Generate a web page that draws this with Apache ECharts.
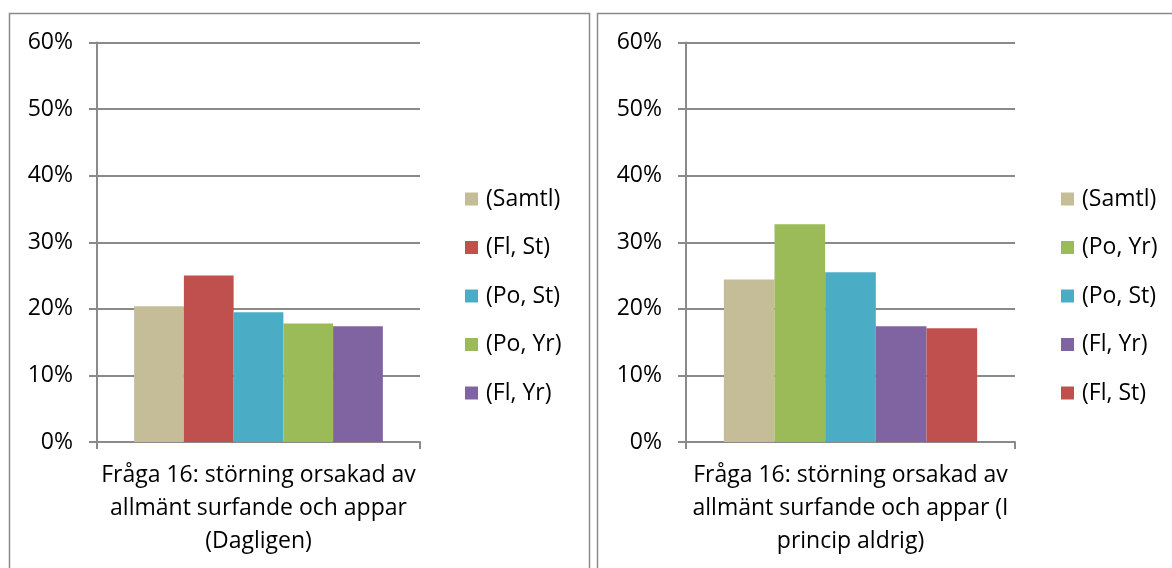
<!DOCTYPE html>
<html><head><meta charset="utf-8">
<script src="https://cdn.jsdelivr.net/npm/echarts@6/dist/echarts.min.js"></script>
<style>html,body{margin:0;padding:0;background:#fff}#c{width:1172px;height:568px}</style>
</head><body><div id="c"></div>
<script>
const leftCategory = ["Fråga 16: störning orsakad av\nallmänt surfande och appar\n(Dagligen)"];
const rightCategory = ["Fråga 16: störning orsakad av\nallmänt surfande och appar (I\nprincip aldrig)"];
const yTicks = [0, 0.1, 0.2, 0.3, 0.4, 0.5, 0.6];

const leftSeriesNames = ["(Samtl)", "(Fl, St)", "(Po, St)", "(Po, Yr)", "(Fl, Yr)"];
const leftValues = [0.204, 0.250, 0.195, 0.178, 0.174];

const rightSeriesNames = ["(Samtl)", "(Po, Yr)", "(Po, St)", "(Fl, Yr)", "(Fl, St)"];
const rightValues = [0.244, 0.327, 0.255, 0.174, 0.171];

const colors = {"(Samtl)":"#C4BD97","(Fl, St)":"#C0504D","(Po, St)":"#4BACC6","(Po, Yr)":"#9BBB59","(Fl, Yr)":"#8064A2"};

const FONT = "Open Sans";
const FS = 23;
const gridColor = "#8a8a8a";

function yAxis(gi){
  return {type:'value', gridIndex:gi, min:yTicks[0], max:yTicks[yTicks.length-1], interval:0.1,
    axisLine:{show:true, lineStyle:{color:gridColor, width:2}},
    axisTick:{show:true, length:8, lineStyle:{color:gridColor, width:2}},
    splitLine:{show:true, lineStyle:{color:gridColor, width:2}},
    axisLabel:{fontFamily:FONT, fontSize:FS, color:'#000', margin:24,
      formatter:v=>Math.round(v*100)+'%'}};
}
function xAxis(gi, data){
  return {type:'category', gridIndex:gi, data:data,
    axisLine:{show:true, lineStyle:{color:gridColor, width:2}},
    axisTick:{show:true, length:7, lineStyle:{color:gridColor, width:2}},
    axisLabel:{fontFamily:FONT, fontSize:FS, color:'#000', lineHeight:33, margin:17, interval:0}};
}
const series = [];
leftSeriesNames.forEach((n,i)=>series.push({type:'bar', name:n, xAxisIndex:0, yAxisIndex:0,
  data:[leftValues[i]], itemStyle:{color:colors[n]}, barGap:'0%', barCategoryGap:'23%'}));
rightSeriesNames.forEach((n,i)=>series.push({type:'bar', name:n, xAxisIndex:1, yAxisIndex:1,
  data:[rightValues[i]], itemStyle:{color:colors[n]}, barGap:'0%', barCategoryGap:'23%'}));

function legend(left, names){
  return {orient:'vertical', left:left, top:182, itemWidth:13, itemHeight:13, itemGap:24.5,
    icon:'rect', selectedMode:false, data:names,
    textStyle:{fontFamily:FONT, fontSize:FS, color:'#000', lineHeight:24, padding:[0,0,0,3]}};
}

const chart = echarts.init(document.getElementById('c'), null, {renderer:'canvas'});
chart.setOption({
  animation:false,
  grid:[{left:97, right:752, top:42.5, bottom:126},
        {left:686, right:157, top:42.5, bottom:126}],
  xAxis:[xAxis(0,leftCategory), xAxis(1,rightCategory)],
  yAxis:[yAxis(0), yAxis(1)],
  legend:[legend(460, leftSeriesNames), legend(1056, rightSeriesNames)],
  graphic:[
    {type:'rect', shape:{x:9.5, y:13.5, width:580, height:600}, style:{fill:null, stroke:'#8a8a8a', lineWidth:1.5}},
    {type:'rect', shape:{x:597.5, y:13.5, width:600, height:600}, style:{fill:null, stroke:'#8a8a8a', lineWidth:1.5}}
  ],
  series:series
});
</script></body></html>
